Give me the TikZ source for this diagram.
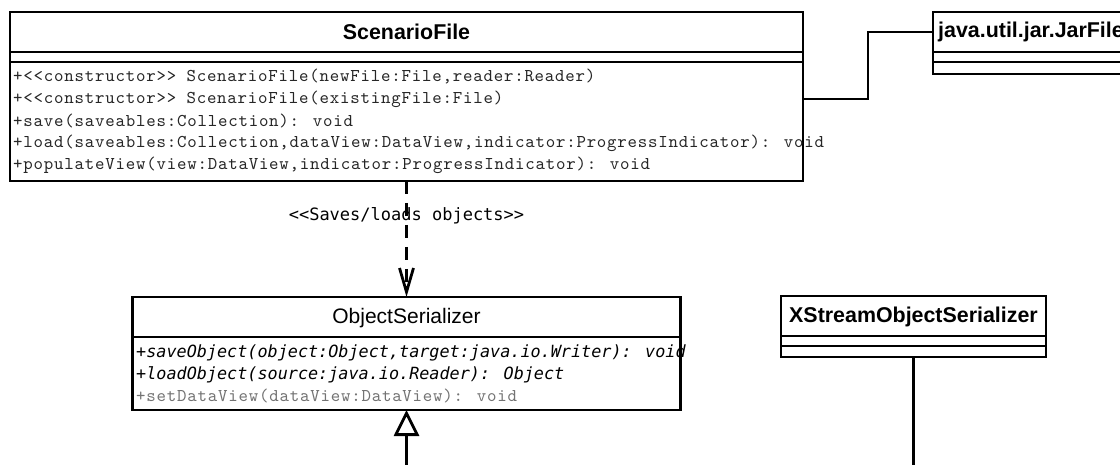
\documentclass[tikz,border=0pt]{standalone}
\usepackage{fontspec}
\setmainfont{Liberation Sans}
\newfontfamily\opfont{lmmono10-regular.otf}[LetterSpace=4.4]
\newfontfamily\absfont{DejaVu Sans Mono}
\usetikzlibrary{arrows.meta,calc}

\tikzset{
  uml/.style={draw, line width=2.8pt, fill=white, inner sep=0pt, outer sep=0pt},
  cls title/.style={font=\fontsize{21.4}{24}\selectfont\bfseries, inner sep=0pt},
  abs title/.style={font=\fontsize{21}{24}\selectfont, inner sep=0pt},
  op/.style={anchor=west, inner sep=0pt, font=\opfont\fontsize{18}{20}\selectfont, text=black!85},
  absop/.style={anchor=west, inner sep=0pt, font=\absfont\itshape\fontsize{16.8}{20}\selectfont},
  grayop/.style={op, text=black!55},
  deplabel/.style={inner sep=0pt, font=\absfont\fontsize{17}{20}\selectfont},
  sep/.style={line width=2.8pt},
  link/.style={line width=2.8pt},
  dep/.style={line width=2.8pt, dash pattern=on 13pt off 9pt,
    -{Straight Barb[length=24pt,width=14pt]}},
  gen/.style={line width=2.8pt, -{Triangle[open,length=26pt,width=25pt]}},
}

\begin{document}
\begin{tikzpicture}[x=1pt,y=-1pt]
\useasboundingbox (0,0) rectangle (1120,465);
\fill[white] (0,0) rectangle (1120,465);
\clip (0,0) rectangle (1120,465);

% ScenarioFile class
\node[uml, minimum width=793pt, minimum height=169pt] (sf) at (406.5,96.5) {};
\node[cls title] (sfname) at (406.5,32) {ScenarioFile};
\draw[sep] ($(sf.north west)+(0,40)$) -- ($(sf.north east)+(0,40)$);
\draw[sep] ($(sf.north west)+(0,50)$) -- ($(sf.north east)+(0,50)$);
\node[op] (sfop1) at (13,77)  {+<<constructor>> ScenarioFile(newFile:File,reader:Reader)};
\node[op] (sfop2) at (13,99)  {+<<constructor>> ScenarioFile(existingFile:File)};
\node[op] (sfop3) at (13,121) {+save(saveables:Collection): void};
\node[op] (sfop4) at (13,143) {+load(saveables:Collection,dataView:DataView,indicator:ProgressIndicator): void};
\node[op] (sfop5) at (13,165) {+populateView(view:DataView,indicator:ProgressIndicator): void};

% java.util.jar.JarFile class
\node[uml, minimum width=207pt, minimum height=62pt] (jar) at (1036.5,43) {};
\node[cls title, anchor=west] (jarname) at (938,32) {java.util.jar.JarFile};
\draw[sep] ($(jar.north west)+(0,40)$) -- ($(jar.north east)+(0,40)$);
\draw[sep] ($(jar.north west)+(0,50)$) -- ($(jar.north east)+(0,50)$);

% association ScenarioFile -- JarFile
\draw[link] ($(sf.east)+(0,2.5)$) -- ++(65,0) |- (jarname.west -| jar.west);

% ObjectSerializer class
\node[uml, minimum width=548pt, minimum height=113pt] (os) at (406.5,353.5) {};
\node[abs title] (osname) at (406.5,318) {ObjectSerializer};
\draw[sep] ($(os.north west)+(0,40)$) -- ($(os.north east)+(0,40)$);
\node[absop] (osop1) at (136,353)   {+saveObject(object:Object,target:java.io.Writer): void};
\node[absop] (osop2) at (136,374.5) {+loadObject(source:java.io.Reader): Object};
\node[grayop] (osop3) at (136,396)  {+setDataView(dataView:DataView): void};

% dependency ScenarioFile -> ObjectSerializer
\draw[dep] (sf.south) -- (sf.south |- os.north);
\node[deplabel] (deptext) at (406.5,216) {<<Saves/loads objects>>};

% generalization towards ObjectSerializer
\coordinate (subA) at (406.5,475);
\draw[gen] (subA) -- (subA |- os.south);

% XStreamObjectSerializer class
\node[uml, minimum width=265pt, minimum height=61pt] (xs) at (913.5,326.5) {};
\node[cls title] (xsname) at (913.5,317) {XStreamObjectSerializer};
\draw[sep] ($(xs.north west)+(0,40)$) -- ($(xs.north east)+(0,40)$);
\draw[sep] ($(xs.north west)+(0,50)$) -- ($(xs.north east)+(0,50)$);
\coordinate (subB) at (913.5,475);
\draw[link] (xs.south) -- (subB);
\end{tikzpicture}
\end{document}
